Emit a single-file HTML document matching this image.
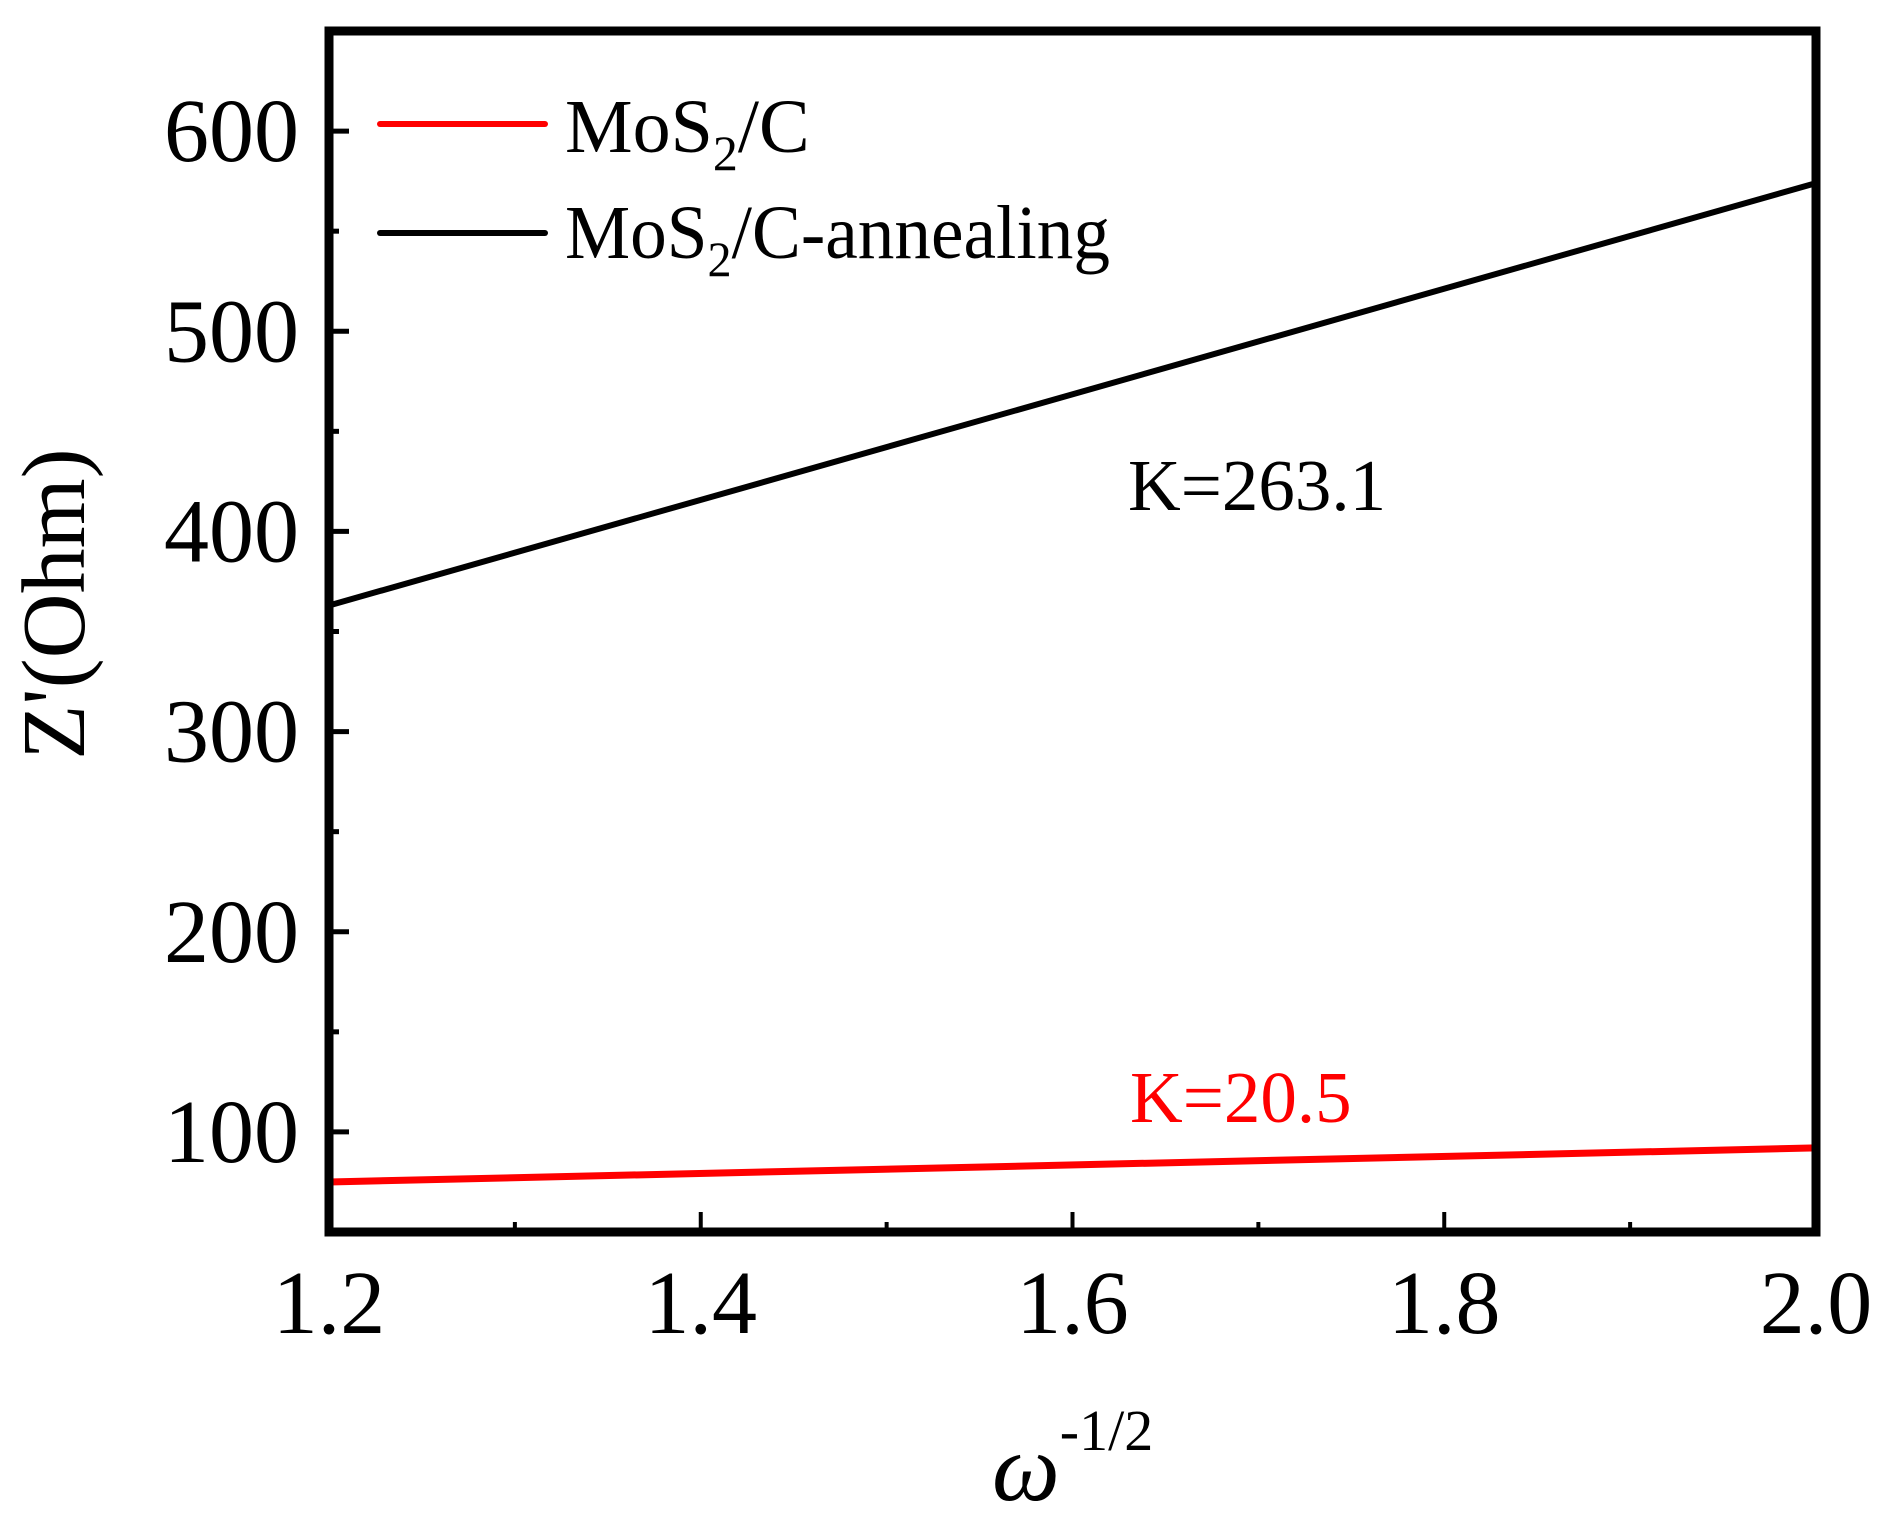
<!DOCTYPE html>
<html><head><meta charset="utf-8"><style>
html,body{margin:0;padding:0;background:#fff}
svg{display:block}
text{font-family:"Liberation Serif",serif;fill:#000}
</style></head><body>
<svg id="chart" width="1893" height="1514" viewBox="0 0 1893 1514">
<g id="plot"></g>
</svg>
<script>
const xTicks=[1.2,1.4,1.6,1.8,2.0];
const xTickLabels=["1.2","1.4","1.6","1.8","2.0"];
const yTicks=[100,200,300,400,500,600];
const yTickLabels=["100","200","300","400","500","600"];
const seriesNames=["MoS2/C","MoS2/C-annealing"];
const redX=[1.2,2.0];
const redY=[75,92];
const blackX=[1.2,2.0];
const blackY=[363,574];

const L=329,R=1816,T=31,B=1232;
const xMin=1.2,xMax=2.0,yMin=50,yMax=650;
function sx(v){return L+(v-xMin)/(xMax-xMin)*(R-L);}
function sy(v){return B-(v-yMin)/(yMax-yMin)*(B-T);}
const NS="http://www.w3.org/2000/svg";
const g=document.getElementById('plot');
function mk(tag,attrs,txt){const e=document.createElementNS(NS,tag);for(const k in attrs)e.setAttribute(k,attrs[k]);if(txt!==undefined)e.textContent=txt;g.appendChild(e);return e;}

let e=mk('polyline',{points:redX.map((x,i)=>sx(x)+','+sy(redY[i])).join(' '),fill:'none',stroke:'#ff0000','stroke-width':7});


e=mk('polyline',{points:blackX.map((x,i)=>sx(x)+','+sy(blackY[i])).join(' '),fill:'none',stroke:'#000','stroke-width':6});



e=mk('rect',{x:L,y:T,width:R-L,height:B-T,fill:'none',stroke:'#000','stroke-width':9});



for(let v=1.2;v<=2.0001;v+=0.1){
  const major=Math.abs(Math.round(v*5)-v*5)<1e-6;
  e=mk('line',{x1:sx(v),x2:sx(v),y1:B,y2:B-(major?20:10),stroke:'#000','stroke-width':4});
  
  
}
xTicks.forEach((v,i)=>{
  e=mk('text',{x:sx(v),y:1333,'font-size':90,'text-anchor':'middle'},xTickLabels[i]);
  
  
});
for(let v=100;v<=600;v+=50){
  const major=v%100===0;
  e=mk('line',{x1:L,x2:L+(major?20:10),y1:sy(v),y2:sy(v),stroke:'#000','stroke-width':5});
  
  
}
yTicks.forEach((v,i)=>{
  e=mk('text',{x:299,y:sy(v)+30,'font-size':90,'text-anchor':'end'},yTickLabels[i]);
  
  
});
</script>
<svg width="1893" height="1514" style="position:absolute;left:0;top:0">
<text x="84" y="604" font-size="90" text-anchor="middle" transform="rotate(-90 84 604)">Z'(Ohm)</text>
<text x="992" y="1500" font-size="96"><tspan font-style="italic">ω</tspan><tspan font-size="58" dy="-50">-1/2</tspan></text>
<line x1="380" y1="124" x2="545" y2="124" stroke="#ff0000" stroke-width="6" stroke-linecap="round"/>
<text x="565" y="152" font-size="76">MoS<tspan font-size="50" dy="18">2</tspan><tspan dy="-18">/C</tspan></text>
<line x1="380" y1="233" x2="545" y2="233" stroke="#000" stroke-width="6" stroke-linecap="round"/>
<text x="565" y="258" font-size="76" textLength="545" lengthAdjust="spacingAndGlyphs">MoS<tspan font-size="50" dy="18">2</tspan><tspan dy="-18">/C-annealing</tspan></text>
<text x="1128" y="510" font-size="73">K=263.1</text>
<text x="1130" y="1122" font-size="73" style="fill:#ff0000">K=20.5</text>
</svg>
</body></html>
